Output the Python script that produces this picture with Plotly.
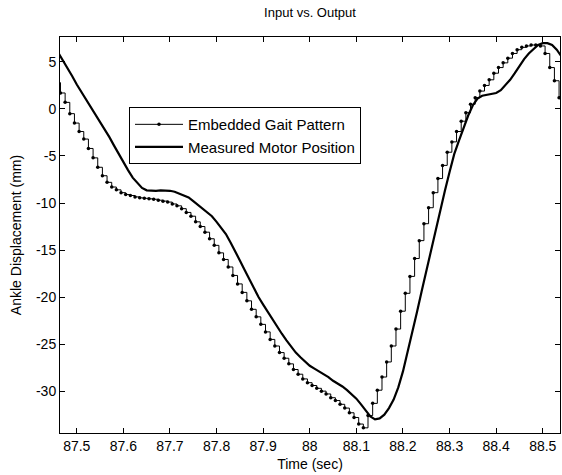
import plotly.graph_objects as go

# Sample times (sec), 100 Hz
time_embedded = [round(87.455 + 0.01 * k, 3) for k in range(109)]
time_measured = [round(87.46 + 0.01 * k, 3) for k in range(109)]

# Embedded gait pattern (mm), staircase input
embedded = [
    2.8, 1.7, 0.7, -0.5, -1.5, -2.4, -3.2, -4.2, -5.2, -6.2,
    -7.1, -7.8, -8.3, -8.6, -8.9, -9.1, -9.2, -9.35, -9.45, -9.5,
    -9.55, -9.6, -9.7, -9.8, -9.9, -10.1, -10.3, -10.6, -11.0, -11.4,
    -12.0, -12.5, -13.1, -13.8, -14.5, -15.3, -16.0, -16.8, -17.7, -18.6,
    -19.5, -20.4, -21.3, -22.1, -22.9, -23.7, -24.5, -25.2, -25.9, -26.5,
    -27.1, -27.7, -28.2, -28.7, -29.1, -29.4, -29.7, -30.0, -30.3, -30.7,
    -31.0, -31.4, -31.8, -32.3, -32.8, -33.5, -33.9, -32.6, -31.3, -29.9,
    -28.5, -26.9, -25.2, -23.4, -21.5, -19.6, -17.8, -15.9, -14.0, -12.2,
    -10.5, -8.9, -7.4, -6.0, -4.6, -3.5, -2.4, -1.3, -0.4, 0.5,
    1.2, 1.9, 2.5, 3.1, 3.8, 4.4, 4.9, 5.4, 5.9, 6.3,
    6.55, 6.7, 6.8, 6.8, 6.7, 5.9, 4.4, 3.0, 1.2,
]

# Measured motor position (mm)
measured = [
    6.0, 5.2, 4.3, 3.5, 2.6, 1.8, 1.0, 0.3, -0.5, -1.3,
    -2.1, -3.0, -3.9, -4.8, -5.6, -6.5, -7.3, -7.9, -8.4, -8.65,
    -8.7, -8.7, -8.65, -8.65, -8.7, -8.8, -9.0, -9.2, -9.4, -9.8,
    -10.2, -10.6, -10.9, -11.4, -12.0, -12.6, -13.3, -14.2, -15.1, -16.1,
    -17.1, -18.1, -19.1, -20.0, -20.8, -21.6, -22.4, -23.2, -23.9, -24.6,
    -25.3, -25.9, -26.4, -26.9, -27.3, -27.6, -27.9, -28.2, -28.5, -28.9,
    -29.2, -29.5, -29.9, -30.3, -30.8, -31.4, -32.1, -32.7, -33.0, -32.9,
    -32.5, -31.8, -30.9, -29.6, -27.9, -25.9, -23.8, -21.6, -19.4, -17.2,
    -15.0, -12.9, -10.8, -8.7, -6.7, -4.8, -3.4, -2.0, -0.7, 0.4,
    1.1, 1.4, 1.5, 1.6, 1.7, 2.0, 2.5, 3.1, 3.8, 4.6,
    5.3, 5.9, 6.4, 6.8, 7.0, 7.0, 6.8, 6.3, 5.6,
]

x_ticks = [87.5, 87.6, 87.7, 87.8, 87.9, 88.0, 88.1, 88.2, 88.3, 88.4, 88.5]
x_tick_text = ["87.5", "87.6", "87.7", "87.8", "87.9", "88", "88.1", "88.2", "88.3", "88.4", "88.5"]
y_ticks = [-30, -25, -20, -15, -10, -5, 0, 5]
y_tick_text = ["-30", "-25", "-20", "-15", "-10", "-5", "0", "5"]

FONT = "Liberation Sans, Arial, sans-serif"

fig = go.Figure()
fig.add_trace(go.Scatter(
    x=time_embedded, y=embedded, name="Embedded Gait Pattern",
    mode="lines+markers", line=dict(color="black", width=1, shape="hv"),
    marker=dict(color="black", size=3.5),
))
fig.add_trace(go.Scatter(
    x=time_measured, y=measured, name="Measured Motor Position",
    mode="lines", line=dict(color="black", width=2.2),
))

axis_common = dict(
    showline=True, linecolor="black", linewidth=1, mirror="ticks",
    ticks="inside", ticklen=5, tickcolor="black", tickwidth=1,
    showgrid=False, zeroline=False, automargin=False,
    tickfont=dict(family=FONT, size=14, color="black"),
)

fig.update_layout(
    width=562, height=475,
    margin=dict(l=60, r=2, t=37, b=42),
    paper_bgcolor="white", plot_bgcolor="white",
    font=dict(family=FONT, size=14, color="black"),
    title=dict(text="Input vs. Output", x=0.5, xref="paper", xanchor="center",
               y=1 - 12 / 475, yref="container", yanchor="middle",
               font=dict(family=FONT, size=13, color="black")),
    xaxis=dict(range=[87.464, 88.537], tickvals=x_ticks, ticktext=x_tick_text,
               title=dict(text="Time (sec)", standoff=6,
                          font=dict(family=FONT, size=14, color="black")),
               **axis_common),
    yaxis=dict(range=[-34.45, 7.65], tickvals=y_ticks, ticktext=y_tick_text,
               title=dict(text="Ankle Displacement (mm)", standoff=11,
                          font=dict(family=FONT, size=14, color="black")),
               **axis_common),
    legend=dict(x=0.138, y=0.823, xanchor="left", yanchor="top",
                bordercolor="black", borderwidth=1, bgcolor="white",
                font=dict(family=FONT, size=15, color="black"),
                itemwidth=48, tracegroupgap=0),
    showlegend=True,
)

fig.write_html(
    "out.html",
    config={"displayModeBar": False},
    post_script="document.body.style.margin='0';document.body.style.padding='0';",
)
